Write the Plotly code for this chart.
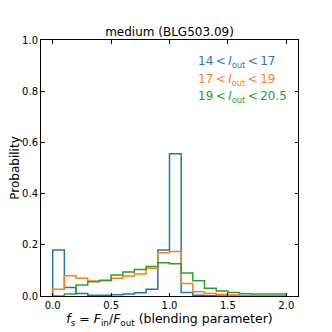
import plotly.graph_objects as go

bin_edges = [round(0.1 * i, 1) for i in range(21)]
blue_vals = [0.180, 0.033, 0.010, 0.003, 0.003, 0.005, 0.008, 0.013, 0.026, 0.180,
             0.556, 0.014, 0.003, 0.001, 0.0, 0.0, 0.0, 0.0, 0.0, 0.0]
orange_vals = [0.026, 0.079, 0.069, 0.059, 0.060, 0.069, 0.078, 0.086, 0.108, 0.169,
               0.174, 0.049, 0.017, 0.010, 0.006, 0.004, 0.001, 0.0, 0.0, 0.0]
green_vals = [0.0, 0.008, 0.043, 0.056, 0.062, 0.082, 0.094, 0.104, 0.115, 0.130,
              0.126, 0.090, 0.060, 0.030, 0.020, 0.014, 0.009, 0.008, 0.008, 0.008]
labels = ["14\u2009&lt;\u2009<i>I</i><sub>out</sub>\u2009&lt;\u200917",
          "17\u2009&lt;\u2009<i>I</i><sub>out</sub>\u2009&lt;\u200919",
          "19\u2009&lt;\u2009<i>I</i><sub>out</sub>\u2009&lt;\u200920.5"]
colors = ["#1f77b4", "#ff7f0e", "#2ca02c"]
title = "medium (BLG503.09)"

FONT = "DejaVu Sans"
fig = go.Figure()

def step_xy(vals):
    xs = [bin_edges[0]] + bin_edges + [bin_edges[-1]]
    ys = [0] + list(vals) + [vals[-1], 0]
    return xs, ys

for vals, col in zip([blue_vals, orange_vals, green_vals], colors):
    xs, ys = step_xy(vals)
    fig.add_trace(go.Scatter(x=xs, y=ys, mode="lines", line=dict(color=col, width=1.5, shape="hv"),
                             showlegend=False, hoverinfo="skip"))

# page has an 8px body margin; target plot area (page px): x 41..298, y 40..296
for i, (lab, col) in enumerate(zip(labels, colors)):
    fig.add_annotation(x=(196 - 41) / 257, y=(296 - (62 + i * 17.5)) / 256,
                       xref="paper", yref="paper", text=lab,
                       showarrow=False, xanchor="left", yanchor="middle",
                       font=dict(family=FONT, size=12, color=col))

axis_common = dict(showline=True, linecolor="black", linewidth=1, mirror="allticks",
                   ticks="inside", ticklen=3.5, tickwidth=1, tickcolor="black",
                   showgrid=False, zeroline=False, automargin=False,
                   tickfont=dict(family=FONT, size=10, color="black"))

fig.update_layout(
    width=324, height=324,
    margin=dict(l=33, r=34, t=32, b=36),
    paper_bgcolor="white", plot_bgcolor="white",
    title=dict(text=title, x=0.5, xanchor="center", xref="paper", y=1, yref="paper",
               yanchor="bottom", pad=dict(b=4), font=dict(family=FONT, size=12, color="black")),
    xaxis=dict(range=[-0.1, 2.1], tickvals=[0, 0.5, 1.0, 1.5, 2.0],
               ticktext=["0.0", "0.5", "1.0", "1.5", "2.0"],
               title=dict(text="<i>f</i><sub>s</sub> = <i>F</i><sub>in</sub>/<i>F</i><sub>out</sub> (blending parameter)",
                          font=dict(family=FONT, size=12.5, color="black"), standoff=2),
               **axis_common),
    yaxis=dict(range=[0, 1.0], tickvals=[0, 0.2, 0.4, 0.6, 0.8, 1.0],
               ticktext=["0.0", "0.2", "0.4", "0.6", "0.8", "1.0"],
               title=dict(text="Probability", font=dict(family=FONT, size=12, color="black"), standoff=5),
               **axis_common),
)

fig.write_html("out.html")
